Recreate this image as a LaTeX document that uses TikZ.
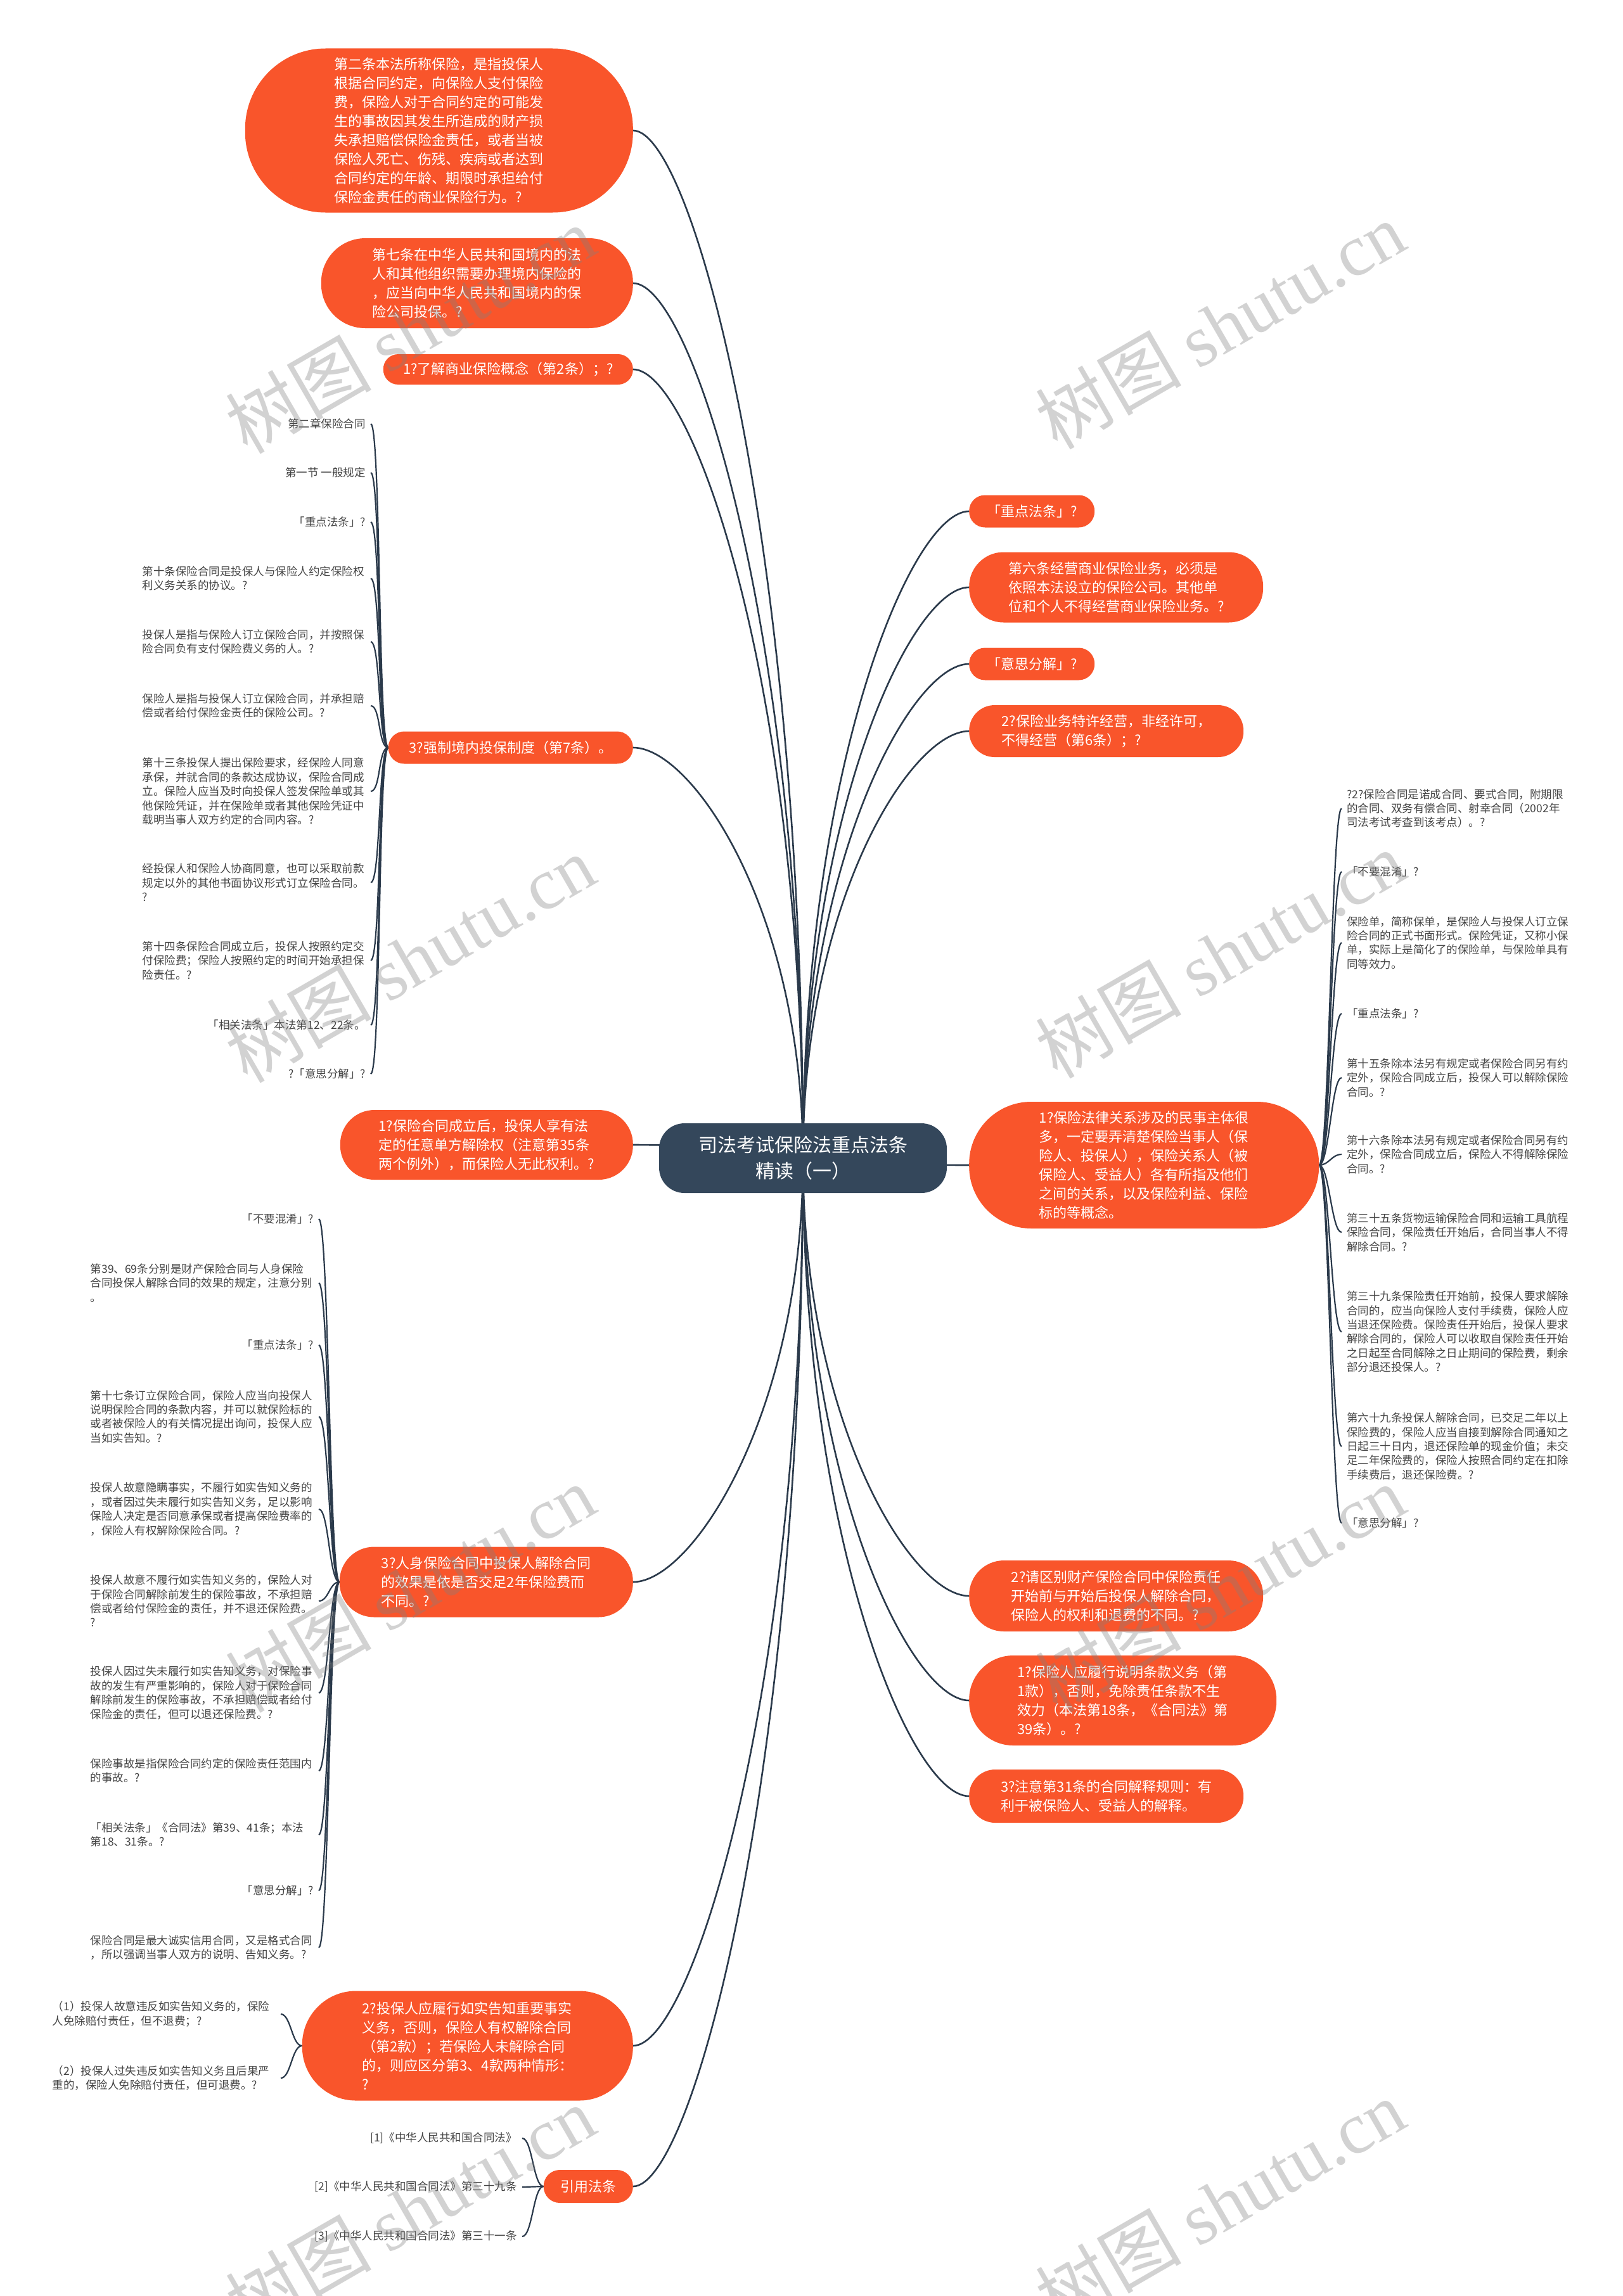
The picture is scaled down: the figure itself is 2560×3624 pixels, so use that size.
\documentclass[tikz,border=0pt]{standalone}
\usepackage{fontspec}
\setmainfont{Noto Sans CJK SC}
\newfontfamily\wmserif{Liberation Serif}
\usetikzlibrary{calc,backgrounds}
\definecolor{nodeorange}{HTML}{F9552B}
\definecolor{centerblue}{HTML}{34475B}
\definecolor{linecol}{HTML}{2B3A4B}
\definecolor{leafgray}{HTML}{444444}
\definecolor{wmgray}{HTML}{808080}
\tikzset{
  obox/.style 2 args={fill=nodeorange, text=white, inner sep=0pt,
    minimum width=#1, minimum height=#2, rounded corners=0.49*#2,
    align=left, font=\fontsize{22}{30}\selectfont},
  obL/.style 2 args={obox={#1}{#2}, anchor=east},
  obR/.style 2 args={obox={#1}{#2}, anchor=west},
  centerbox/.style={fill=centerblue, text=white, inner sep=0pt,
    minimum width=454pt, minimum height=110pt, rounded corners=40pt,
    align=center, font=\fontsize{30}{41}\selectfont},
  leafbase/.style={inner xsep=8pt, inner ysep=0pt, align=left, text=leafgray,
    font=\fontsize{17.5}{22.4}\selectfont},
  leafL/.style={leafbase, anchor=east},
  leafLw/.style={leafL, text width=352pt},
  leafR/.style={leafbase, anchor=west},
  mainline/.style={draw=linecol, line width=2.6pt},
  leafline/.style={draw=linecol, line width=2.2pt},
  wmark/.style={text=wmgray, opacity=0.35, rotate=30, inner sep=0pt,
    font=\fontsize{115}{115}\selectfont},
}
\newcommand\mainconn[2]{\draw[mainline] (#1) .. controls ($(#1)!0.6!(#1|-#2)$) and ($(#2)!0.35!(#1|-#2)$) .. (#2);}
\newcommand\lconn[2]{\draw[leafline] (#1.west) .. controls +(-16,0) and +(16,0) .. (#2.east);}
\newcommand\rconn[2]{\draw[leafline] (#1.east) .. controls +(16,0) and +(-16,0) .. (#2.west);}
\begin{document}
\begin{tikzpicture}[x=1pt,y=-1pt]
\useasboundingbox (0,0) rectangle (2560,3624);
% center
\node[centerbox] (c) at (1267,1828) {司法考试保险法重点法条\\精读（一）};
% left main nodes
\node[obL={612pt}{259pt}] (L1) at (999,206) {第二条本法所称保险，是指投保人\\根据合同约定，向保险人支付保险\\费，保险人对于合同约定的可能发\\生的事故因其发生所造成的财产损\\失承担赔偿保险金责任，或者当被\\保险人死亡、伤残、疾病或者达到\\合同约定的年龄、期限时承担给付\\保险金责任的商业保险行为。?};
\node[obL={492pt}{142pt}] (L2) at (999,447) {第七条在中华人民共和国境内的法\\人和其他组织需要办理境内保险的\\，应当向中华人民共和国境内的保\\险公司投保。?};
\node[obL={394pt}{48pt}] (L3) at (999,583) {1?了解商业保险概念（第2条）；?};
\node[obL={386pt}{51pt}] (L4) at (999,1180) {3?强制境内投保制度（第7条）。};
\node[obL={462pt}{110pt}] (L5) at (999,1807) {1?保险合同成立后，投保人享有法\\定的任意单方解除权（注意第35条\\两个例外），而保险人无此权利。?};
\node[obL={463pt}{111pt}] (L6) at (999,2497) {3?人身保险合同中投保人解除合同\\的效果是依是否交足2年保险费而\\不同。?};
\node[obL={522pt}{173pt}] (L7) at (999,3229) {2?投保人应履行如实告知重要事实\\义务，否则，保险人有权解除合同\\（第2款）；若保险人未解除合同\\的，则应区分第3、4款两种情形：\\?};
\node[obL={141pt}{52pt}] (L8) at (999,3451) {引用法条};
% right main nodes
\node[obR={198pt}{51pt}] (R1) at (1529,807) {「重点法条」?};
\node[obR={464pt}{111pt}] (R2) at (1529,927) {第六条经营商业保险业务，必须是\\依照本法设立的保险公司。其他单\\位和个人不得经营商业保险业务。?};
\node[obR={198pt}{51pt}] (R3) at (1529,1048) {「意思分解」?};
\node[obR={433pt}{82pt}] (R4) at (1529,1154) {2?保险业务特许经营，非经许可，\\不得经营（第6条）；?};
\node[obR={552pt}{200pt}] (R5) at (1529,1839) {1?保险法律关系涉及的民事主体很\\多，一定要弄清楚保险当事人（保\\险人、投保人），保险关系人（被\\保险人、受益人）各有所指及他们\\之间的关系，以及保险利益、保险\\标的等概念。};
\node[obR={464pt}{112pt}] (R6) at (1529,2519) {2?请区别财产保险合同中保险责任\\开始前与开始后投保人解除合同，\\保险人的权利和退费的不同。?};
\node[obR={485pt}{142pt}] (R7) at (1529,2684) {1?保险人应履行说明条款义务（第\\1款），否则，免除责任条款不生\\效力（本法第18条，《合同法》第\\39条）。?};
\node[obR={433pt}{84pt}] (R8) at (1529,2835) {3?注意第31条的合同解释规则：有\\利于被保险人、受益人的解释。};
% leaves of L4
\node[leafL] (a1) at (585,669) {第二章保险合同};
\node[leafL] (a2) at (585,746) {第一节 一般规定};
\node[leafL] (a3) at (585,824) {「重点法条」?};
\node[leafLw] (a4) at (585,913) {第十条保险合同是投保人与保险人约定保险权\\利义务关系的协议。?};
\node[leafLw] (a5) at (585,1013) {投保人是指与保险人订立保险合同，并按照保\\险合同负有支付保险费义务的人。?};
\node[leafLw] (a6) at (585,1114) {保险人是指与投保人订立保险合同，并承担赔\\偿或者给付保险金责任的保险公司。?};
\node[leafLw] (a7) at (585,1249) {第十三条投保人提出保险要求，经保险人同意\\承保，并就合同的条款达成协议，保险合同成\\立。保险人应当及时向投保人签发保险单或其\\他保险凭证，并在保险单或者其他保险凭证中\\载明当事人双方约定的合同内容。?};
\node[leafLw] (a8) at (585,1393) {经投保人和保险人协商同意，也可以采取前款\\规定以外的其他书面协议形式订立保险合同。\\?};
\node[leafLw] (a9) at (585,1516) {第十四条保险合同成立后，投保人按照约定交\\付保险费；保险人按照约定的时间开始承担保\\险责任。?};
\node[leafL] (a10) at (585,1618) {「相关法条」本法第12、22条。};
\node[leafL] (a11) at (585,1695) {?「意思分解」?};
% leaves of L6
\node[leafL] (b1) at (503,1924) {「不要混淆」?};
\node[leafLw] (b2) at (503,2025) {第39、69条分别是财产保险合同与人身保险\\合同投保人解除合同的效果的规定，注意分别\\。};
\node[leafL] (b3) at (503,2123) {「重点法条」?};
\node[leafLw] (b4) at (503,2236) {第十七条订立保险合同，保险人应当向投保人\\说明保险合同的条款内容，并可以就保险标的\\或者被保险人的有关情况提出询问，投保人应\\当如实告知。?};
\node[leafLw] (b5) at (503,2382) {投保人故意隐瞒事实，不履行如实告知义务的\\，或者因过失未履行如实告知义务，足以影响\\保险人决定是否同意承保或者提高保险费率的\\，保险人有权解除保险合同。?};
\node[leafLw] (b6) at (503,2527) {投保人故意不履行如实告知义务的，保险人对\\于保险合同解除前发生的保险事故，不承担赔\\偿或者给付保险金的责任，并不退还保险费。\\?};
\node[leafLw] (b7) at (503,2672) {投保人因过失未履行如实告知义务，对保险事\\故的发生有严重影响的，保险人对于保险合同\\解除前发生的保险事故，不承担赔偿或者给付\\保险金的责任，但可以退还保险费。?};
\node[leafLw] (b8) at (503,2795) {保险事故是指保险合同约定的保险责任范围内\\的事故。?};
\node[leafLw] (b9) at (503,2896) {「相关法条」《合同法》第39、41条；本法\\第18、31条。?};
\node[leafL] (b10) at (503,2984) {「意思分解」?};
\node[leafLw] (b11) at (503,3074) {保险合同是最大诚实信用合同，又是格式合同\\，所以强调当事人双方的说明、告知义务。?};
% leaves of R5
\node[leafR] (c1) at (2117,1276) {?2?保险合同是诺成合同、要式合同，附期限\\的合同、双务有偿合同、射幸合同（2002年\\司法考试考查到该考点）。?};
\node[leafR] (c2) at (2117,1376) {「不要混淆」?};
\node[leafR] (c3) at (2117,1488) {保险单，简称保单，是保险人与投保人订立保\\险合同的正式书面形式。保险凭证，又称小保\\单，实际上是简化了的保险单，与保险单具有\\同等效力。};
\node[leafR] (c4) at (2117,1600) {「重点法条」?};
\node[leafR] (c5) at (2117,1701) {第十五条除本法另有规定或者保险合同另有约\\定外，保险合同成立后，投保人可以解除保险\\合同。?};
\node[leafR] (c6) at (2117,1822) {第十六条除本法另有规定或者保险合同另有约\\定外，保险合同成立后，保险人不得解除保险\\合同。?};
\node[leafR] (c7) at (2117,1945) {第三十五条货物运输保险合同和运输工具航程\\保险合同，保险责任开始后，合同当事人不得\\解除合同。?};
\node[leafR] (c8) at (2117,2102) {第三十九条保险责任开始前，投保人要求解除\\合同的，应当向保险人支付手续费，保险人应\\当退还保险费。保险责任开始后，投保人要求\\解除合同的，保险人可以收取自保险责任开始\\之日起至合同解除之日止期间的保险费，剩余\\部分退还投保人。?};
\node[leafR] (c9) at (2117,2283) {第六十九条投保人解除合同，已交足二年以上\\保险费的，保险人应当自接到解除合同通知之\\日起三十日内，退还保险单的现金价值；未交\\足二年保险费的，保险人按照合同约定在扣除\\手续费后，退还保险费。?};
\node[leafR] (c10) at (2117,2404) {「意思分解」?};
% leaves of L7
\node[leafLw] (d1) at (443,3179) {（1）投保人故意违反如实告知义务的，保险\\人免除赔付责任，但不退费；?};
\node[leafLw] (d2) at (443,3280) {（2）投保人过失违反如实告知义务且后果严\\重的，保险人免除赔付责任，但可退费。?};
% leaves of L8
\node[leafL] (e1) at (824,3375) {[1]《中华人民共和国合同法》};
\node[leafL] (e2) at (824,3452) {[2]《中华人民共和国合同法》第三十九条};
\node[leafL] (e3) at (824,3530) {[3]《中华人民共和国合同法》第三十一条};
% connectors
\begin{pgfonlayer}{background}
\fill[white] (0,0) rectangle (2560,3624);
\mainconn{c.center}{L1.east}
\mainconn{c.center}{L2.east}
\mainconn{c.center}{L3.east}
\mainconn{c.center}{L4.east}
\mainconn{c.center}{L5.east}
\mainconn{c.center}{L6.east}
\mainconn{c.center}{L7.east}
\mainconn{c.center}{L8.east}
\mainconn{c.center}{R1.west}
\mainconn{c.center}{R2.west}
\mainconn{c.center}{R3.west}
\mainconn{c.center}{R4.west}
\mainconn{c.center}{R5.west}
\mainconn{c.center}{R6.west}
\mainconn{c.center}{R7.west}
\mainconn{c.center}{R8.west}
\foreach \n in {a1,a2,a3,a4,a5,a6,a7,a8,a9,a10,a11}{\lconn{L4}{\n}}
\foreach \n in {b1,b2,b3,b4,b5,b6,b7,b8,b9,b10,b11}{\lconn{L6}{\n}}
\foreach \n in {d1,d2}{\lconn{L7}{\n}}
\foreach \n in {e1,e2,e3}{\lconn{L8}{\n}}
\foreach \n in {c1,c2,c3,c4,c5,c6,c7,c8,c9,c10}{\rconn{R5}{\n}}
\end{pgfonlayer}
% watermarks
\node[wmark] (w1) at (647,520) {树图 {\wmserif shutu.cn}};
\node[wmark] (w2) at (1925,513) {树图 {\wmserif shutu.cn}};
\node[wmark] (w3) at (647,1513) {树图 {\wmserif shutu.cn}};
\node[wmark] (w4) at (1925,1506) {树图 {\wmserif shutu.cn}};
\node[wmark] (w5) at (647,2507) {树图 {\wmserif shutu.cn}};
\node[wmark] (w6) at (1925,2507) {树图 {\wmserif shutu.cn}};
\node[wmark] (w7) at (647,3487) {树图 {\wmserif shutu.cn}};
\node[wmark] (w8) at (1925,3477) {树图 {\wmserif shutu.cn}};
\end{tikzpicture}
\end{document}
